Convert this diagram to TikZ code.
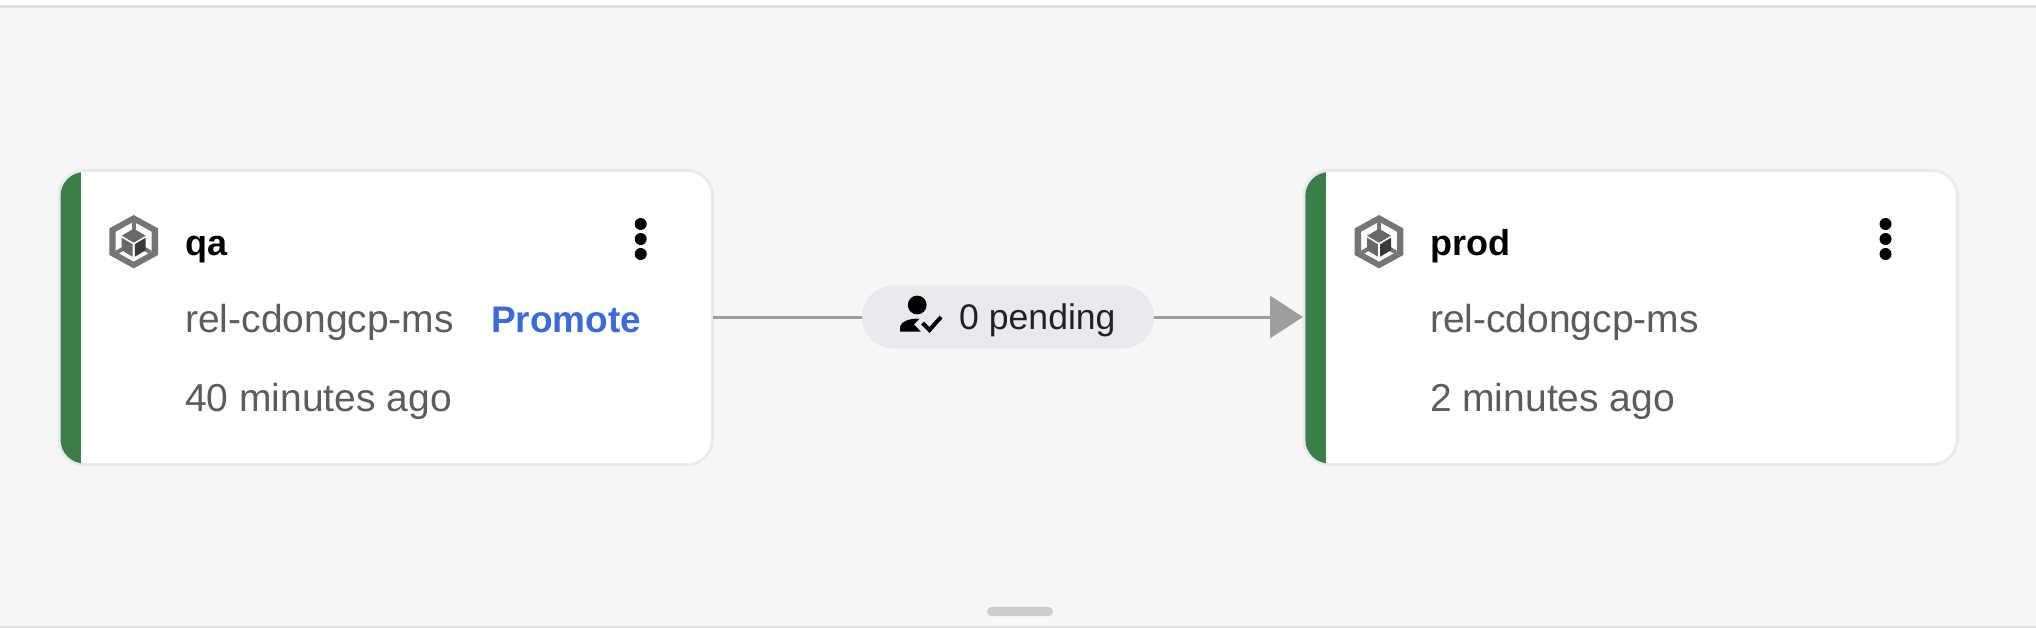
\documentclass[tikz,border=0pt]{standalone}
\usepackage{fontspec}
\setmainfont{Liberation Sans}
\usetikzlibrary{arrows.meta}
\definecolor{panel}{HTML}{F7F7F7}
\definecolor{edgeline}{HTML}{E0E0E0}
\definecolor{cardline}{HTML}{E8EAED}
\definecolor{stagegreen}{HTML}{3A7F4A}
\definecolor{graytext}{HTML}{5C5C5F}
\definecolor{linkblue}{HTML}{3B6BD6}
\definecolor{flowgray}{HTML}{9E9E9E}
\definecolor{pillfill}{HTML}{E8EAED}
\definecolor{inktext}{HTML}{202124}
\definecolor{iconline}{HTML}{757575}
\tikzset{
  x=1pt,y=-1pt,
  cardbox/.style={draw=cardline,line width=3pt,fill=white,rounded corners=25pt,minimum width=653.5pt,minimum height=294pt,inner sep=0pt,outer sep=0pt,anchor=north west},
  titletext/.style={anchor=base west,inner sep=0pt,font=\fontsize{36}{40}\selectfont\bfseries,text=black},
  subtext/.style={anchor=base west,inner sep=0pt,font=\fontsize{39}{42}\selectfont,text=graytext},
  linktext/.style={anchor=base west,inner sep=0pt,font=\fontsize{37}{40}\selectfont\bfseries,text=linkblue},
  flow/.style={draw=flowgray,line width=3pt},
  dot/.style={circle,fill=black,minimum size=12pt,inner sep=0pt},
}
\newcommand{\hexicon}[2]{%
  \begin{scope}[shift={(#1,#2)}]
    \fill[iconline,even odd rule] (0,-26.7)--(24.3,-13.3)--(24.3,13.3)--(0,26.7)--(-24.3,13.3)--(-24.3,-13.3)--cycle
      (0,-20)--(18,-10)--(18,10)--(0,20)--(-18,10)--(-18,-10)--cycle;
    \fill[iconline] (-2,-20)--(2,-20)--(2,-12)--(-2,-12)--cycle;
    \fill[iconline] (-18,9)--(-12,5.5)--(-10,9)--(-16,12.5)--cycle;
    \fill[iconline] (18,9)--(12,5.5)--(10,9)--(16,12.5)--cycle;
    \fill[iconline!90!black] (0,-13)--(12,-6)--(0,1)--(-12,-6)--cycle;
    \fill[iconline!90!black] (-12,-4)--(-1.2,2.5)--(-1.2,15)--(-12,8.5)--cycle;
    \fill[iconline!50!black] (12,-4)--(1.2,2.5)--(1.2,15)--(12,8.5)--cycle;
  \end{scope}}
\begin{document}
\begin{tikzpicture}
\useasboundingbox (0,0) rectangle (2036,628);
\fill[white] (0,0) rectangle (2036,628);
\fill[panel] (0,6) rectangle (2036,626);
\fill[edgeline] (0,5) rectangle (2036,8);
\fill[edgeline] (0,626) rectangle (2036,628);
\fill[rounded corners=4.6pt,fill=black!20] (987,607) rectangle (1053,616);
% cards
\node[cardbox] (qa) at (59,170.5) {};
\node[cardbox] (prod) at (1303.8,170.5) {};
\begin{scope}
  \clip[rounded corners=24pt] (60.5,172) rectangle (711,463.5);
  \fill[stagegreen] (60,172) rectangle (81,463.5);
\end{scope}
\begin{scope}
  \clip[rounded corners=24pt] (1305.3,172) rectangle (1955.8,463.5);
  \fill[stagegreen] (1305,172) rectangle (1325.8,463.5);
\end{scope}
\hexicon{133.7}{241.7}
\hexicon{1379}{241.7}
% card texts
\node[titletext] (qat) at (185.5,255) {qa};
\node[subtext] (qar) at (185,332.7) {rel-cdongcp-ms};
\node[linktext] (qap) at (491,332.7) {Promote};
\node[subtext] (qaw) at (185,411.7) {40 minutes ago};
\node[titletext] (prt) at (1430,255) {prod};
\node[subtext] (prr) at (1429.8,332.7) {rel-cdongcp-ms};
\node[subtext] (prw) at (1429.8,411.7) {2 minutes ago};
\node[dot] (qd1) at (640.7,224) {};
\node[dot] (qd2) at (640.7,239) {};
\node[dot] (qd3) at (640.7,254) {};
\node[dot] (pd1) at (1885.5,224) {};
\node[dot] (pd2) at (1885.5,239) {};
\node[dot] (pd3) at (1885.5,254) {};
% pill
\node[fill=pillfill,rounded corners=31.5pt,minimum width=292pt,minimum height=63pt,inner sep=0pt,outer sep=0pt] (pill) at (1008,317) {};
\node[anchor=base west,inner sep=0pt,font=\fontsize{35.6}{38}\selectfont,text=inktext] (pillt) at (959,329) {0 pending};
\fill[black] (917.2,305) circle (9.4);
\fill[black] (900,331.7)--(900,326.5) .. controls (901.5,321) and (911,318) .. (919.5,318.8)--(914,324.5)--(920.8,331.7)--cycle;
\draw[black,line width=4pt] (922.5,323)--(929.5,330)--(941,317);
% connectors
\draw[flow] (qa.east|-pill) -- (pill.west);
\coordinate (tip) at (1303,317);
\draw[flow,-{Triangle[length=33pt,width=42pt,flowgray]}] (pill.east) -- (tip);
\end{tikzpicture}
\end{document}
